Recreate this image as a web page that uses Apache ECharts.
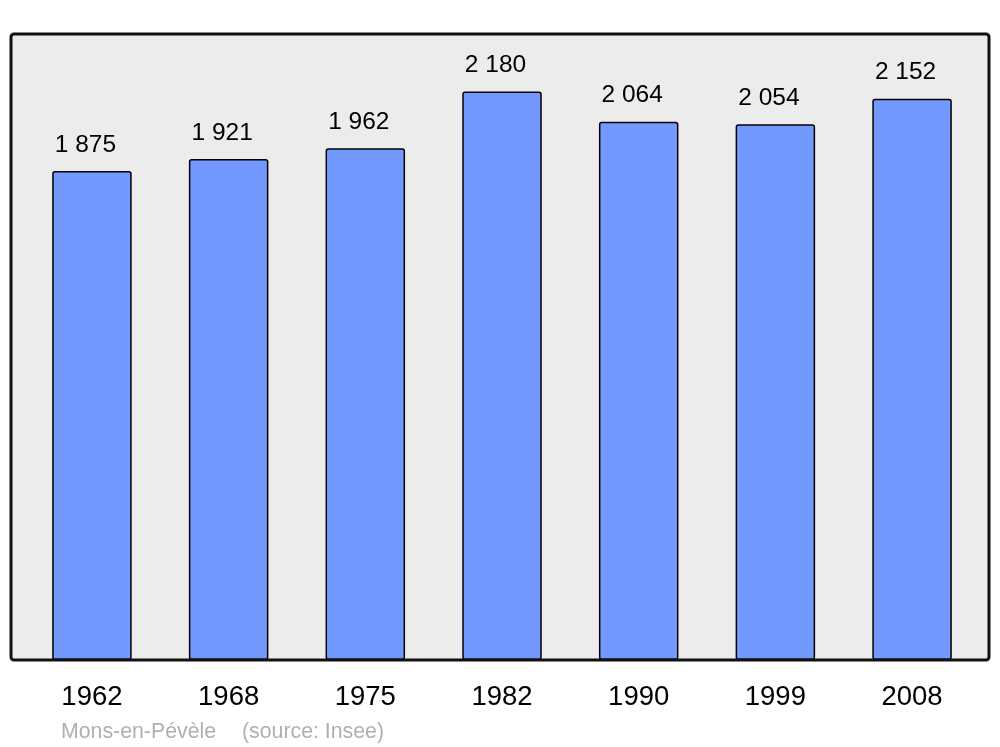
<!DOCTYPE html>
<html>
<head>
<meta charset="utf-8">
<style>html,body{margin:0;padding:0;background:#fff}#c{width:1000px;height:747px}</style>
<script src="https://cdn.jsdelivr.net/npm/echarts@6/dist/echarts.min.js"></script>
</head>
<body>
<div id="c"></div>
<script>
const years = ['1962', '1968', '1975', '1982', '1990', '1999', '2008'];
const population = [1875, 1921, 1962, 2180, 2064, 2054, 2152];
const placeName = 'Mons-en-Pévèle';
const sourceText = '(source: Insee)';

const chart = echarts.init(document.getElementById('c'), null, {renderer: 'canvas'});
const fmt = v => String(v).replace(/\B(?=(\d{3})+(?!\d))/g, ' ');
const FF = 'Liberation Sans, Arial, sans-serif';
chart.setOption({
  animation: false,
  textStyle: {fontFamily: FF},
  grid: {left: 23.6, right: 19.6, top: 34, bottom: 87},
  xAxis: {
    type: 'category', data: years,
    axisLine: {show: false}, axisTick: {show: false},
    axisLabel: {fontSize: 27.5, color: '#000', margin: 23, fontFamily: FF}
  },
  yAxis: {type: 'value', min: 0, max: 2400, show: false, splitLine: {show: false}},
  graphic: [
    {type: 'rect', z: -10, shape: {x: 11, y: 34, width: 978, height: 626, r: 3}, style: {fill: '#ececec', stroke: null}},
    {type: 'rect', z: 100, shape: {x: 11, y: 34, width: 978, height: 626, r: 3}, style: {fill: null, stroke: '#111', lineWidth: 3}},
    {type: 'text', left: 61, top: 721.5, style: {text: placeName, fontSize: 21.3, fill: '#b0b0b0', fontFamily: FF}},
    {type: 'text', left: 242, top: 721.5, style: {text: sourceText, fontSize: 21.3, fill: '#b0b0b0', fontFamily: FF}}
  ],
  series: [{
    type: 'bar', data: population, barWidth: 79.5,
    itemStyle: {color: '#7399ff', borderColor: '#000', borderWidth: 1.5, borderRadius: 2},
    label: {show: true, position: 'top', distance: 13.5, offset: [-6.5, 0], fontSize: 24.5, color: '#000', formatter: p => fmt(p.value), fontFamily: FF}
  }]
});
</script>
</body>
</html>
